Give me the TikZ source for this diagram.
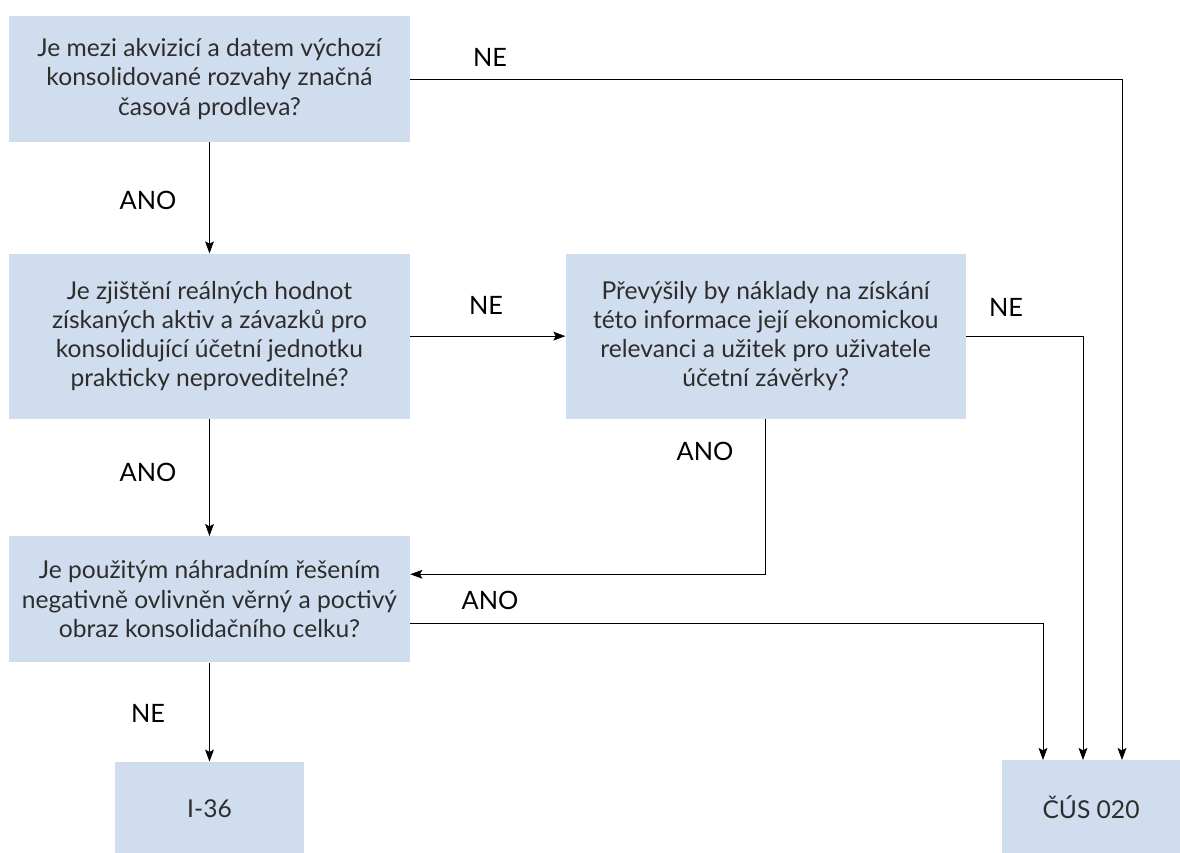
\documentclass[tikz,border=0pt]{standalone}
\usepackage{fontspec}
\setmainfont{Lato}
\usetikzlibrary{positioning,calc,arrows.meta}
\definecolor{boxfill}{RGB}{208,221,238}
\definecolor{boxtext}{RGB}{45,45,45}

\begin{document}
\begin{tikzpicture}[
	x=0.025cm,y=-0.025cm,
	box/.style={
		fill=boxfill,
		text=boxtext,
		align=center,
		inner sep=0pt,
		minimum width=10.025cm,
		font=\fontsize{17.5}{20.8}\selectfont,
	},
	endbox/.style={
		box,
		minimum height=2.325cm,
	},
	lbl/.style={font=\fontsize{18}{20}\selectfont},
	arr/.style={-{Stealth[length=3mm,width=2.2mm,inset=0.6mm]}, line width=0.5pt},
	node distance=5mm
]
\useasboundingbox (0,0) rectangle (1180,853);

% question boxes
\node [box,minimum height=3.15cm] (q1) at (209.5,79) {Je mezi akvizicí a datem výchozí\\konsolidované rozvahy značná\\časová prodleva?};

\node [box,minimum height=4.125cm,below=2.775cm of q1] (q2) {Je zjištění reálných hodnot\\získaných aktiv a závazků pro\\konsolidující účetní jednotku\\prakticky neproveditelné?};

\node [box,minimum height=4.125cm,minimum width=10cm,right=3.875cm of q2] (q3) {Převýšily by náklady na získání\\této informace její ekonomickou\\relevanci a užitek pro uživatele\\účetní závěrky?};

\node [box,minimum height=3.15cm,below=2.925cm of q2] (q4) {Je použitým náhradním řešením\\negativně ovlivněn věrný a poctivý\\obraz konsolidačního celku?};

% end boxes
\node [endbox,minimum width=4.725cm,below=2.475cm of q4] (ias) {I-36};
\node [endbox,minimum width=4.45cm,anchor=north] (cus) at (1091,760) {ČÚS 020};

% connections
\draw[arr] (q1.east) -| ($(cus.north)+(31,0)$);
\draw[arr] (q1.south) -- (q2.north);
\draw[arr] (q2.east) -- (q3.west);
\draw[arr] (q3.east) -| ($(cus.north)+(-8,0)$);
\draw[arr] (q2.south) -- (q4.north);
\draw[arr] (q3.south) |- ($(q4.east)+(0,-25)$);
\draw[arr] ($(q4.east)+(0,24)$) -| ($(cus.north)+(-48,0)$);
\draw[arr] (q4.south) -- (ias.north);

% labels
\node [lbl] (l1) at (490,57) {NE};
\node [lbl] (l2) at (148,200) {ANO};
\node [lbl] (l3) at (486,305) {NE};
\node [lbl] (l4) at (1006,307) {NE};
\node [lbl] (l5) at (705,451) {ANO};
\node [lbl] (l6) at (148,472) {ANO};
\node [lbl] (l7) at (490,600) {ANO};
\node [lbl] (l8) at (148,713) {NE};

\end{tikzpicture}
\end{document}
